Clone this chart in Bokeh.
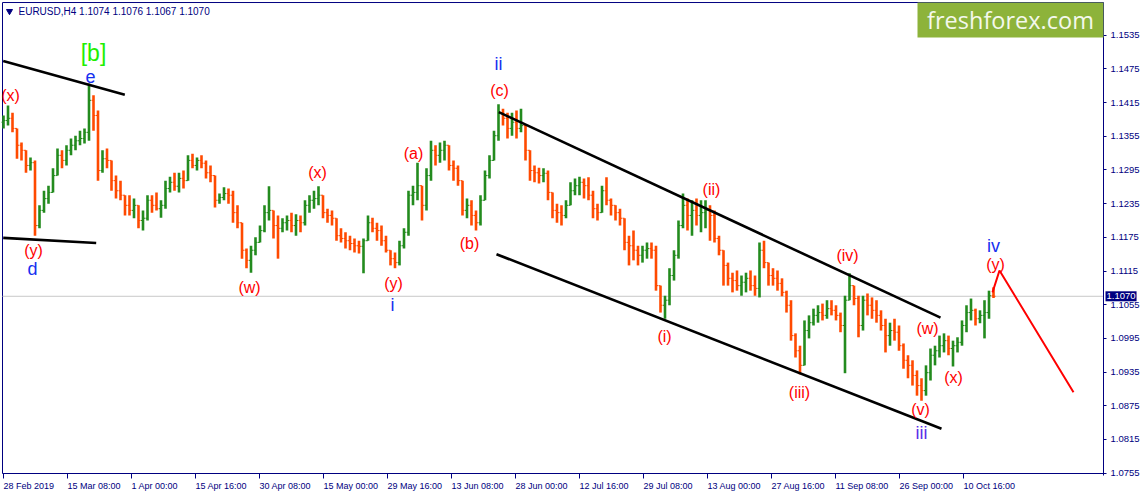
from bokeh.plotting import figure
from bokeh.models import (Range1d, LinearAxis, FixedTicker, Label,
                          ColumnDataSource, PrintfTickFormatter, BoxAnnotation)
from bokeh.embed import file_html
from bokeh.resources import INLINE
from bokeh.core.properties import value

# EURUSD H4 price history, one entry per 18 hours (4.5 H4 bars)
bar_high = [
    1.1392, 1.1410, 1.1397, 1.1369, 1.1344, 1.1330, 1.1317, 1.1312, 1.1232, 1.1258,
    1.1267, 1.1298, 1.1333, 1.1330, 1.1339, 1.1351, 1.1356, 1.1365, 1.1369, 1.1449,
    1.1428, 1.1401, 1.1330, 1.1333, 1.1312, 1.1285, 1.1276, 1.1250, 1.1250, 1.1244,
    1.1232, 1.1223, 1.1250, 1.1250, 1.1255, 1.1241, 1.1276, 1.1283, 1.1290, 1.1290,
    1.1294, 1.1321, 1.1324, 1.1317, 1.1321, 1.1312, 1.1303, 1.1285, 1.1253, 1.1264,
    1.1262, 1.1258, 1.1232, 1.1201, 1.1155, 1.1160, 1.1175, 1.1196, 1.1232, 1.1266,
    1.1223, 1.1214, 1.1209, 1.1214, 1.1219, 1.1216, 1.1214, 1.1241, 1.1250, 1.1258,
    1.1266, 1.1250, 1.1226, 1.1223, 1.1209, 1.1191, 1.1184, 1.1178, 1.1173, 1.1169,
    1.1173, 1.1214, 1.1210, 1.1201, 1.1196, 1.1178, 1.1152, 1.1148, 1.1169, 1.1191,
    1.1258, 1.1267, 1.1308, 1.1267, 1.1298, 1.1347, 1.1339, 1.1344, 1.1347, 1.1339,
    1.1312, 1.1303, 1.1276, 1.1244, 1.1241, 1.1223, 1.1250, 1.1294, 1.1321, 1.1365,
    1.1412, 1.1404, 1.1397, 1.1397, 1.1401, 1.1404, 1.1374, 1.1330, 1.1303, 1.1299,
    1.1298, 1.1294, 1.1255, 1.1235, 1.1232, 1.1241, 1.1273, 1.1280, 1.1283, 1.1280,
    1.1282, 1.1258, 1.1235, 1.1267, 1.1282, 1.1244, 1.1232, 1.1226, 1.1209, 1.1178,
    1.1187, 1.1160, 1.1160, 1.1166, 1.1166, 1.1160, 1.1089, 1.1071, 1.1120, 1.1152,
    1.1205, 1.1253, 1.1244, 1.1241, 1.1244, 1.1241, 1.1241, 1.1232, 1.1223, 1.1178,
    1.1152, 1.1130, 1.1112, 1.1116, 1.1107, 1.1112, 1.1116, 1.1107, 1.1166, 1.1169,
    1.1130, 1.1120, 1.1116, 1.1102, 1.1080, 1.1063, 1.1004, 1.0982, 1.1027, 1.1036,
    1.1048, 1.1054, 1.1057, 1.1063, 1.1063, 1.1054, 1.1041, 1.1071, 1.1111, 1.1089,
    1.1071, 1.1071, 1.1075, 1.1068, 1.1063, 1.1045, 1.1030, 1.1023, 1.1030, 1.1018,
    1.0986, 1.0965, 1.0956, 1.0938, 1.0924, 1.0947, 1.0977, 1.0982, 1.1000, 1.1004,
    1.1000, 1.0991, 1.0997, 1.1027, 1.1054, 1.1066, 1.1048, 1.1045, 1.1063, 1.1080,
    1.1086,
]
bar_low = [
    1.1369, 1.1374, 1.1362, 1.1315, 1.1312, 1.1290, 1.1294, 1.1178, 1.1191, 1.1219,
    1.1235, 1.1255, 1.1285, 1.1298, 1.1303, 1.1321, 1.1330, 1.1339, 1.1342, 1.1347,
    1.1365, 1.1276, 1.1290, 1.1298, 1.1258, 1.1244, 1.1241, 1.1214, 1.1214, 1.1209,
    1.1191, 1.1187, 1.1205, 1.1219, 1.1223, 1.1210, 1.1226, 1.1255, 1.1258, 1.1255,
    1.1262, 1.1276, 1.1298, 1.1294, 1.1298, 1.1280, 1.1273, 1.1228, 1.1235, 1.1241,
    1.1235, 1.1201, 1.1191, 1.1137, 1.1120, 1.1112, 1.1143, 1.1166, 1.1184, 1.1205,
    1.1173, 1.1137, 1.1184, 1.1187, 1.1184, 1.1178, 1.1184, 1.1196, 1.1219, 1.1226,
    1.1232, 1.1209, 1.1201, 1.1196, 1.1169, 1.1166, 1.1155, 1.1152, 1.1148, 1.1146,
    1.1111, 1.1169, 1.1184, 1.1169, 1.1160, 1.1148, 1.1125, 1.1120, 1.1125, 1.1155,
    1.1178, 1.1232, 1.1241, 1.1205, 1.1223, 1.1276, 1.1303, 1.1308, 1.1312, 1.1294,
    1.1276, 1.1267, 1.1214, 1.1209, 1.1196, 1.1187, 1.1196, 1.1241, 1.1280, 1.1312,
    1.1347, 1.1374, 1.1351, 1.1356, 1.1351, 1.1362, 1.1312, 1.1276, 1.1273, 1.1271,
    1.1273, 1.1241, 1.1209, 1.1201, 1.1196, 1.1209, 1.1232, 1.1250, 1.1250, 1.1244,
    1.1241, 1.1209, 1.1205, 1.1219, 1.1232, 1.1214, 1.1205, 1.1196, 1.1152, 1.1125,
    1.1134, 1.1125, 1.1130, 1.1137, 1.1137, 1.1080, 1.1041, 1.1030, 1.1054, 1.1098,
    1.1137, 1.1191, 1.1187, 1.1178, 1.1196, 1.1184, 1.1191, 1.1169, 1.1166, 1.1143,
    1.1089, 1.1089, 1.1077, 1.1080, 1.1071, 1.1077, 1.1080, 1.1071, 1.1068, 1.1120,
    1.1089, 1.1089, 1.1080, 1.1070, 1.1041, 1.0991, 1.0961, 1.0931, 1.0947, 1.0995,
    1.1018, 1.1023, 1.1027, 1.1030, 1.1036, 1.1027, 1.1006, 1.0933, 1.1063, 1.1054,
    1.0997, 1.1009, 1.1036, 1.1030, 1.1023, 1.1009, 1.0970, 1.0982, 1.0991, 1.0973,
    1.0941, 1.0924, 1.0911, 1.0893, 1.0884, 1.0893, 1.0920, 1.0947, 1.0961, 1.0970,
    1.0965, 1.0945, 1.0970, 1.0982, 1.1006, 1.1027, 1.1018, 1.1022, 1.0995, 1.1030,
    1.1067,
]
bar_close = [
    1.1383, 1.1387, 1.1369, 1.1339, 1.1330, 1.1303, 1.1308, 1.1196, 1.1223, 1.1244,
    1.1255, 1.1285, 1.1321, 1.1312, 1.1330, 1.1339, 1.1347, 1.1351, 1.1362, 1.1419,
    1.1392, 1.1294, 1.1315, 1.1312, 1.1276, 1.1258, 1.1250, 1.1232, 1.1223, 1.1232,
    1.1205, 1.1209, 1.1241, 1.1232, 1.1226, 1.1232, 1.1262, 1.1273, 1.1266, 1.1280,
    1.1276, 1.1312, 1.1303, 1.1312, 1.1307, 1.1290, 1.1285, 1.1241, 1.1246, 1.1253,
    1.1250, 1.1219, 1.1201, 1.1152, 1.1134, 1.1152, 1.1166, 1.1187, 1.1219, 1.1223,
    1.1196, 1.1191, 1.1201, 1.1205, 1.1196, 1.1205, 1.1201, 1.1232, 1.1241, 1.1244,
    1.1250, 1.1219, 1.1214, 1.1209, 1.1178, 1.1173, 1.1169, 1.1164, 1.1160, 1.1159,
    1.1169, 1.1201, 1.1191, 1.1187, 1.1169, 1.1152, 1.1137, 1.1130, 1.1160, 1.1184,
    1.1250, 1.1255, 1.1267, 1.1232, 1.1285, 1.1330, 1.1321, 1.1330, 1.1339, 1.1303,
    1.1298, 1.1276, 1.1223, 1.1232, 1.1214, 1.1201, 1.1241, 1.1285, 1.1312, 1.1356,
    1.1397, 1.1387, 1.1369, 1.1380, 1.1369, 1.1374, 1.1330, 1.1294, 1.1290, 1.1285,
    1.1289, 1.1255, 1.1223, 1.1219, 1.1214, 1.1232, 1.1258, 1.1267, 1.1273, 1.1267,
    1.1250, 1.1226, 1.1219, 1.1258, 1.1241, 1.1232, 1.1219, 1.1209, 1.1166, 1.1160,
    1.1152, 1.1143, 1.1152, 1.1155, 1.1152, 1.1089, 1.1054, 1.1063, 1.1107, 1.1143,
    1.1196, 1.1232, 1.1214, 1.1223, 1.1214, 1.1219, 1.1223, 1.1214, 1.1173, 1.1152,
    1.1125, 1.1102, 1.1098, 1.1089, 1.1095, 1.1102, 1.1089, 1.1084, 1.1152, 1.1130,
    1.1107, 1.1102, 1.1093, 1.1077, 1.1054, 1.1000, 1.0973, 1.0947, 1.1009, 1.1023,
    1.1036, 1.1041, 1.1036, 1.1048, 1.1045, 1.1036, 1.1018, 1.1063, 1.1089, 1.1066,
    1.1018, 1.1063, 1.1054, 1.1045, 1.1036, 1.1018, 1.1000, 1.1009, 1.1006, 1.0982,
    1.0956, 1.0947, 1.0929, 1.0911, 1.0902, 1.0934, 1.0965, 1.0973, 1.0982, 1.0991,
    1.0977, 1.0982, 1.0988, 1.1018, 1.1041, 1.1045, 1.1030, 1.1036, 1.1041, 1.1071,
    1.1070,
]
first_open = 1.1380

# axis values
price_ticks = [1.0755, 1.0815, 1.0875, 1.0935, 1.0995, 1.1055, 1.1115,
               1.1175, 1.1235, 1.1295, 1.1355, 1.1415, 1.1475, 1.1535]
date_ticks = [0, 64, 128, 192, 256, 320, 384, 448, 512, 576, 640, 704, 768, 832, 896, 960]
date_labels = ["28 Feb 2019", "15 Mar 08:00", "1 Apr 00:00", "15 Apr 16:00",
               "30 Apr 08:00", "15 May 00:00", "29 May 16:00", "13 Jun 08:00",
               "28 Jun 00:00", "12 Jul 16:00", "29 Jul 08:00", "13 Aug 00:00",
               "27 Aug 16:00", "11 Sep 08:00", "26 Sep 00:00", "10 Oct 16:00"]
last_price = 1.1070
header_text = "EURUSD,H4  1.1074 1.1076 1.1067 1.1070"

# trend lines (H4 bar number, price)
triangle_top_bar, triangle_top_price = [-0.3, 121.3], [1.1489, 1.1429]
triangle_bot_bar, triangle_bot_price = [-0.3, 92.7], [1.1174, 1.1165]
channel_top_bar, channel_top_price = [495.3, 937.0], [1.1398, 1.1032]
channel_bot_bar, channel_bot_price = [493.0, 938.0], [1.1145, 1.0834]
forecast_bar, forecast_price = [989, 996, 1070], [1.1077, 1.1116, 1.0899]

# Elliott wave counts
wave_text = ["(x)", "[b]", "e", "(y)", "d", "(w)", "(x)", "(y)", "i", "(a)", "(b)",
             "(c)", "ii", "(i)", "(ii)", "(iii)", "(iv)", "(v)", "iii", "(w)", "(x)",
             "(y)", "iv"]
wave_bar = [7, 90, 87, 30, 29, 246, 314, 390, 389, 410, 466, 496, 495, 661, 708,
            796, 844, 917, 918, 924, 950, 992, 990]
wave_price = [1.1428, 1.1504, 1.1461, 1.1152, 1.1118, 1.1086, 1.1291, 1.1093, 1.1054,
              1.1324, 1.1164, 1.1437, 1.1483, 1.0998, 1.1260, 1.0899, 1.1143, 1.0868,
              1.0827, 1.1013, 1.0925, 1.1127, 1.1159]
wave_degree = ["minute", "primary", "minor", "minute", "minor", "minute", "minute",
               "minute", "minor", "minute", "minute", "minute", "minor", "minute",
               "minute", "minute", "minute", "minute", "minor3", "minute", "minute",
               "minute", "minor"]

NAVY = "#000080"
UP, DOWN, FLAT = "#238b1e", "#ff4a00", "#000000"
FONT = "Liberation Sans"
degree_color = {"minute": "#ff0000", "minor": "#1530f0", "minor3": "#5a30e8",
                "primary": "#22ee00"}
degree_size = {"minute": "16px", "minor": "18px", "minor3": "18px", "primary": "23px"}

# chart window in data units (bar number / price); the canvas also holds the scales
chart_left, chart_right = -1, 1100
chart_bottom, chart_top = 1.07544, 1.15932

p = figure(width=1144, height=494,
           x_range=Range1d(-3, 1141), y_range=Range1d(1.07170, 1.15968),
           output_backend="svg", toolbar_location=None,
           x_axis_location=None, y_axis_location=None,
           min_border=0, min_border_left=0, min_border_right=0,
           min_border_top=0, min_border_bottom=0)
p.grid.visible = False
p.outline_line_color = None
p.background_fill_color = "white"
p.border_fill_color = "white"

# price scale on the right edge of the chart window
yax = LinearAxis(ticker=FixedTicker(ticks=price_ticks, minor_ticks=[]),
                 formatter=PrintfTickFormatter(format="%.4f"),
                 fixed_location=chart_right, bounds=(1.0750, chart_top))
yax.axis_line_color = NAVY
yax.major_tick_line_color = NAVY
yax.minor_tick_line_color = None
yax.major_tick_out = 3
yax.major_tick_in = 0
yax.major_label_standoff = 4
yax.major_label_text_color = NAVY
yax.major_label_text_font = FONT
yax.major_label_text_font_size = "9.5px"
p.add_layout(yax, "right")

# time scale along the bottom edge; its texts are drawn left-aligned below
xax = LinearAxis(ticker=FixedTicker(ticks=date_ticks, minor_ticks=[]),
                 fixed_location=chart_bottom, bounds=(chart_left, chart_right))
xax.axis_line_color = NAVY
xax.major_tick_line_color = NAVY
xax.minor_tick_line_color = None
xax.major_tick_out = 5
xax.major_tick_in = 0
xax.major_label_text_color = None
xax.major_label_text_font_size = "0px"
p.add_layout(xax, "below")

date_label_price = 1.07322
p.text(x=date_ticks, y=[date_label_price] * len(date_ticks), text=date_labels,
       text_align="left", text_baseline="middle", text_color=NAVY,
       text_font=value(FONT), text_font_size="9px")

# top and left borders of the chart window
p.line([chart_left, chart_right], [chart_top, chart_top], line_color=NAVY, line_width=1)
p.line([chart_left, chart_left], [chart_bottom, chart_top], line_color=NAVY, line_width=1)

# last price line
p.line([chart_left, chart_right], [last_price, last_price], line_color="#c8c8c8",
       line_width=1)

# OHLC bars
step = 4.5
n = len(bar_close)
xs = [i * step for i in range(n)]
opens = [first_open] + bar_close[:-1]
colors = [UP if c > o else (DOWN if c < o else FLAT) for o, c in zip(opens, bar_close)]
src = ColumnDataSource(dict(x=xs, xl=[x - 2.0 for x in xs], xr=[x + 2.0 for x in xs],
                            hi=bar_high, lo=bar_low, o=opens, c=bar_close, color=colors))
p.segment(x0="x", y0="lo", x1="x", y1="hi", line_color="color", line_width=2.6, source=src)
p.segment(x0="xl", y0="o", x1="x", y1="o", line_color="color", line_width=1, source=src)
p.segment(x0="x", y0="c", x1="xr", y1="c", line_color="color", line_width=1, source=src)

# trend lines and channel
for bx, by in [(triangle_top_bar, triangle_top_price), (triangle_bot_bar, triangle_bot_price),
               (channel_top_bar, channel_top_price), (channel_bot_bar, channel_bot_price)]:
    p.line(bx, by, line_color="black", line_width=2.6)
p.line(forecast_bar, forecast_price, line_color="#ff0000", line_width=2)

# wave labels
wsrc = ColumnDataSource(dict(x=wave_bar, y=wave_price, text=wave_text,
                             color=[degree_color[d] for d in wave_degree],
                             size=[degree_size[d] for d in wave_degree]))
p.text(x="x", y="y", text="text", text_color="color", text_font_size="size",
       text_font=value(FONT), text_align="center", text_baseline="middle", source=wsrc)

# header line
header_price = 1.15777
p.scatter([6], [header_price], marker="inverted_triangle", size=6, color=NAVY)
p.add_layout(Label(x=15, y=header_price, text=header_text, text_align="left",
                   text_baseline="middle", text_color=NAVY, text_font=FONT,
                   text_font_size="10px"))

# logo
p.add_layout(BoxAnnotation(left=914, right=chart_right, top=chart_top, bottom=1.1531,
                           fill_color="#8db33a", fill_alpha=1, line_color=None))
p.add_layout(Label(x=1007, y=1.15612, text="freshforex.com", text_align="center",
                   text_baseline="middle", text_color="#f4f8ec",
                   text_font="Open Sans", text_font_size="23.5px"))

# current price tag on the price scale
p.add_layout(Label(x=1102, y=last_price, text="1.1070", text_align="left",
                   text_baseline="middle", text_color="white", text_font=FONT,
                   text_font_size="9.5px", background_fill_color=NAVY,
                   padding=(1, 2)))

open("out.html", "w").write(file_html(p, INLINE))
